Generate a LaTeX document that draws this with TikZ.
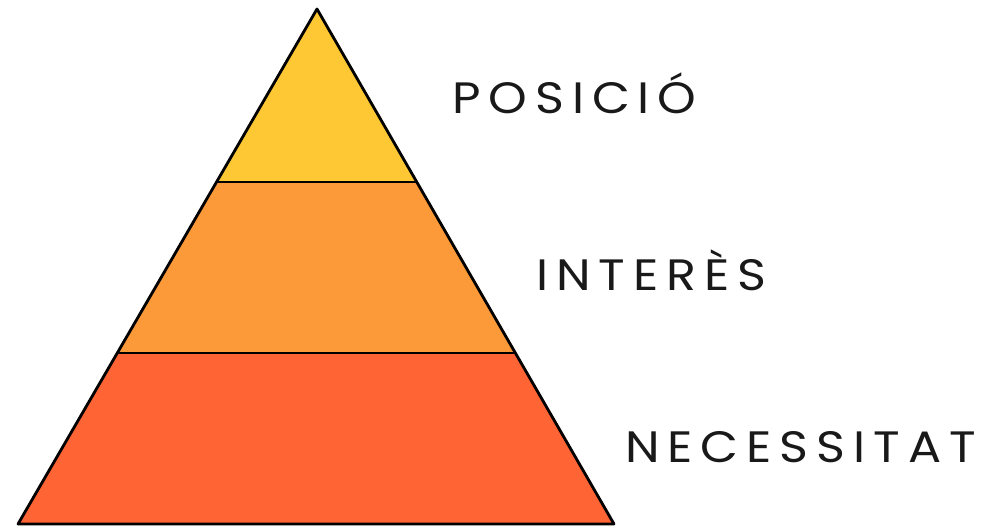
\documentclass[tikz,border=0pt]{standalone}
\usepackage{fontspec}
\usepackage{tikz}
\usetikzlibrary{positioning, calc}
\newfontfamily\levelfont[LetterSpace=18, FakeStretch=1.12]{Poppins}
\definecolor{levelTop}{RGB}{254,200,52}
\definecolor{levelMid}{RGB}{252,153,56}
\definecolor{levelBase}{RGB}{254,100,52}
\tikzset{
  layer/.style={line width=1.6pt, line join=round},
  levellabel/.style={anchor=base west, inner sep=0pt, font=\levelfont\fontsize{25}{25}\selectfont, text=black!90}
}
\begin{document}
\begin{tikzpicture}[x=0.02cm, y=-0.02cm]
        % Khung bao toàn bộ hình
        \useasboundingbox (0,0) rectangle (997,528);

        % Các góc của kim tự tháp
        \coordinate (apex) at (317,9);
        \coordinate (baseL) at (18,524);
        \coordinate (baseR) at (614,524);
        \coordinate (midL) at (118,353);
        \coordinate (midR) at (515,353);
        \coordinate (topL) at (218,182);
        \coordinate (topR) at (416,182);

        % Tô màu ba tầng
        \fill[levelBase] (baseL) -- (baseR) -- (midR) -- (midL) -- cycle;
        \fill[levelMid] (midL) -- (midR) -- (topR) -- (topL) -- cycle;
        \fill[levelTop] (topL) -- (topR) -- (apex) -- cycle;

        % Viền và các đường chia ngang
        \draw[layer] (baseL) -- (baseR) -- (apex) -- cycle;
        \draw[layer] (midL) -- (midR);
        \draw[layer] (topL) -- (topR);

        % Nhãn của từng tầng
        \node[levellabel] (posicio) at (452,113) {POSICIÓ};
        \node[levellabel] (interes) at (536,290) {INTERÈS};
        \node[levellabel] (necessitat) at (625,462) {NECESSITAT};
    \end{tikzpicture}
\end{document}
